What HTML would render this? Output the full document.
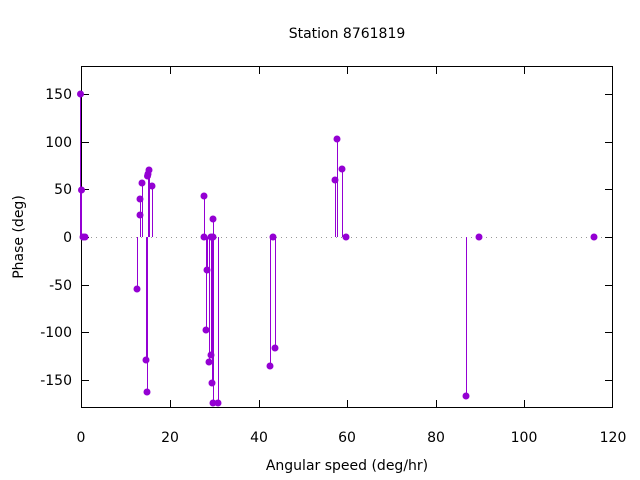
<!DOCTYPE html><html><head><style>body{margin:0;background:#fff}svg{display:block}</style></head><body>
<svg width="640" height="480" xmlns="http://www.w3.org/2000/svg" font-family="DejaVu Sans, Liberation Sans, sans-serif" font-size="14">
<rect width="640" height="480" fill="#fff"/>
<line x1="81" y1="237.5" x2="613" y2="237.5" stroke="#999" stroke-dasharray="1,4"/>
<g stroke="#000" stroke-width="1">
<rect x="81.5" y="66.5" width="531" height="341" fill="none"/>
<path d="M81 94.5h8M81 142.5h8M81 189.5h8M81 237.5h8M81 285.5h8M81 332.5h8M81 380.5h8M613 94.5h-8M613 142.5h-8M613 189.5h-8M613 237.5h-8M613 285.5h-8M613 332.5h-8M613 380.5h-8"/>
<path d="M170.5 408v-8M259.5 408v-8M347.5 408v-8M436.5 408v-8M524.5 408v-8M170.5 66v8M259.5 66v8M347.5 66v8M436.5 66v8M524.5 66v8"/>
</g>
<g text-anchor="end" fill="#000">
<text x="72" y="99">150</text><text x="72" y="147">100</text><text x="72" y="194">50</text><text x="72" y="242">0</text><text x="72" y="290">-50</text><text x="72" y="337">-100</text><text x="72" y="385">-150</text>
</g>
<g text-anchor="middle" fill="#000">
<text x="81" y="442">0</text><text x="170" y="442">20</text><text x="259" y="442">40</text><text x="347" y="442">60</text><text x="436" y="442">80</text><text x="524" y="442">100</text><text x="613" y="442">120</text>
<text x="347" y="38">Station 8761819</text>
<text x="347" y="470">Angular speed (deg/hr)</text>
<text transform="translate(23,237) rotate(-90)">Phase (deg)</text>
</g>
<g stroke="#9400d3" stroke-width="1">
<path d="M80.5 237V94M81.5 237V190M137.5 237V289M140.5 237V215M140.5 237V199M142.5 237V183M146.5 237V360M147.5 237V392M148.5 237V174M149.5 237V170M152.5 237V186M204.5 237V196M207.5 237V270M206.5 237V330M209.5 237V362M211.5 237V355M213.5 237V219M212.5 237V383M213.5 237V403M218.5 237V403M270.5 237V366M275.5 237V348M335.5 237V180M337.5 237V139M342.5 237V169M466.5 237V396"/>
</g>
<g fill="#9400d3">
<circle cx="80.5" cy="94" r="3.5"/><circle cx="81.5" cy="190" r="3.5"/><circle cx="83" cy="237" r="3.5"/><circle cx="85" cy="237" r="3.5"/>
<circle cx="137" cy="289" r="3.5"/><circle cx="140" cy="215" r="3.5"/><circle cx="140" cy="199" r="3.5"/><circle cx="142" cy="183" r="3.5"/>
<circle cx="146" cy="360" r="3.5"/><circle cx="147" cy="392" r="3.5"/><circle cx="148" cy="174" r="3.5"/><circle cx="149" cy="170" r="3.5"/><circle cx="147.5" cy="176" r="3.5"/><circle cx="152" cy="186" r="3.5"/>
<circle cx="204" cy="196" r="3.5"/><circle cx="204" cy="237" r="3.5"/><circle cx="207" cy="270" r="3.5"/><circle cx="206" cy="330" r="3.5"/><circle cx="209" cy="362" r="3.5"/><circle cx="211" cy="355" r="3.5"/><circle cx="213" cy="219" r="3.5"/><circle cx="211" cy="237" r="3.5"/><circle cx="213" cy="237" r="3.5"/><circle cx="212" cy="383" r="3.5"/><circle cx="213" cy="403" r="3.5"/><circle cx="218" cy="403" r="3.5"/>
<circle cx="270" cy="366" r="3.5"/><circle cx="273" cy="237" r="3.5"/><circle cx="275" cy="348" r="3.5"/>
<circle cx="335" cy="180" r="3.5"/><circle cx="337" cy="139" r="3.5"/><circle cx="342" cy="169" r="3.5"/><circle cx="346" cy="237" r="3.5"/>
<circle cx="466" cy="396" r="3.5"/><circle cx="479" cy="237" r="3.5"/><circle cx="594" cy="237" r="3.5"/>
</g>
</svg>
</body></html>
